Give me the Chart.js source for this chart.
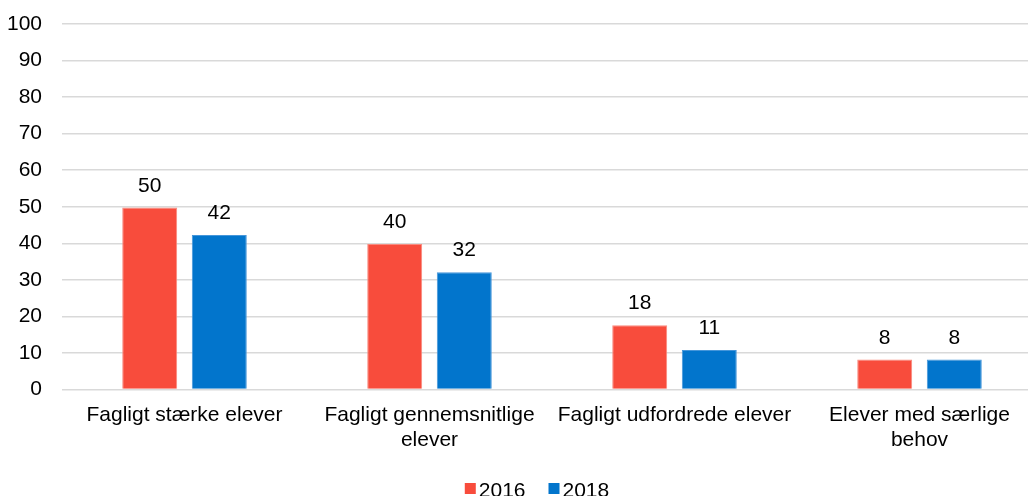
<!DOCTYPE html>
<html>
<head>
<meta charset="utf-8">
<script src="https://cdn.jsdelivr.net/npm/chart.js@4/dist/chart.umd.min.js"></script>
<style>
html,body{margin:0;padding:0;background:#fff;overflow:hidden;width:1028px;height:496px;}
#wrap{width:1042px;height:496px;position:relative;}
</style>
</head>
<body>
<div id="wrap"><canvas id="c"></canvas></div>
<script>
const categories = [
  "Fagligt stærke elever",
  ["Fagligt gennemsnitlige", "elever"],
  "Fagligt udfordrede elever",
  ["Elever med særlige", "behov"]
];
const seriesNames = ["2016", "2018"];
const values2016 = [49.8, 39.8, 17.6, 8.2];
const values2018 = [42.3, 32.1, 10.8, 8.2];
const yTicks = [0, 10, 20, 30, 40, 50, 60, 70, 80, 90, 100];
const seriesColors = ['#F84C3C', '#0275CC'];
const seriesBorders = ['#F98A7E', '#4596DA'];

const FONT = "'Liberation Sans', Arial, sans-serif";
const FS = 21;

const labelPlugin = {
  id: 'valueLabels',
  afterDatasetsDraw(chart) {
    const ctx = chart.ctx;
    ctx.save();
    ctx.font = FS + "px " + FONT;
    ctx.fillStyle = "#000";
    ctx.textAlign = "center";
    ctx.textBaseline = "alphabetic";
    chart.data.datasets.forEach((ds, i) => {
      const meta = chart.getDatasetMeta(i);
      meta.data.forEach((el, j) => {
        ctx.fillText(String(Math.round(ds.data[j])), el.x, el.y - 16);
      });
    });
    ctx.restore();
  }
};

const legendPlugin = {
  id: 'bottomLegend',
  afterDraw(chart) {
    const ctx = chart.ctx;
    ctx.save();
    ctx.font = FS + "px " + FONT;
    ctx.textBaseline = "alphabetic";
    ctx.textAlign = "left";
    const box = 11, gapText = 3, gapItem = 23;
    const items = chart.data.datasets.map(ds => ({ text: ds.label, color: ds.backgroundColor, w: ctx.measureText(ds.label).width }));
    let total = 0;
    items.forEach((it, i) => { total += box + gapText + it.w + (i < items.length - 1 ? gapItem : 0); });
    let x = chart.width / 2 + 16 - total / 2;
    const boxTop = 483, baseline = 497;
    items.forEach(it => {
      ctx.fillStyle = it.color;
      ctx.fillRect(x, boxTop, box, box);
      x += box + gapText;
      ctx.fillStyle = '#000';
      ctx.fillText(it.text, x, baseline);
      x += it.w + gapItem;
    });
    ctx.restore();
  }
};

new Chart(document.getElementById('c'), {
  type: 'bar',
  data: {
    labels: categories,
    datasets: [
      { label: seriesNames[0], data: values2016, backgroundColor: seriesColors[0], borderColor: seriesBorders[0], borderWidth: 1 },
      { label: seriesNames[1], data: values2018, backgroundColor: seriesColors[1], borderColor: seriesBorders[1], borderWidth: 1 }
    ]
  },
  options: {
    responsive: true,
    maintainAspectRatio: false,
    animation: false,
    layout: { padding: { top: 24, right: 0, left: 0, bottom: 30 } },
    datasets: { bar: { categoryPercentage: 0.568, barPercentage: 0.79 } },
    plugins: {
      legend: { display: false },
      tooltip: { enabled: false }
    },
    scales: {
      x: {
        grid: { display: false, drawTicks: false },
        border: { display: false },
        ticks: {
          font: { family: FONT, size: FS },
          color: '#000',
          padding: 13,
          maxRotation: 0,
          autoSkip: false
        }
      },
      y: {
        min: 0,
        max: 100,
        afterBuildTicks(axis) { axis.ticks = yTicks.map(v => ({ value: v })); },
        afterFit(axis) { axis.width = 62; axis.paddingTop = 0; axis.paddingBottom = 0; },
        grid: { color: '#D9D9D9', lineWidth: 1.5, drawTicks: false },
        border: { display: false },
        ticks: {
          font: { family: FONT, size: FS },
          color: '#000',
          padding: 20
        }
      }
    }
  },
  plugins: [labelPlugin, legendPlugin]
});
</script>
</body>
</html>
